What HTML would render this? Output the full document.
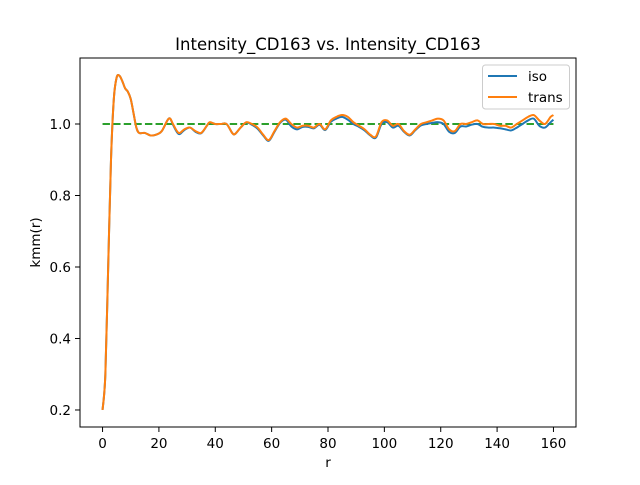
<!DOCTYPE html>
<html><head><meta charset="utf-8"><style>
body{margin:0;background:#fff;font-family:"Liberation Sans","DejaVu Sans",sans-serif;}
svg text{font-family:"DejaVu Sans","Liberation Sans",sans-serif;fill:#000;}
</style></head><body>
<svg id="chart" width="640" height="480" xmlns="http://www.w3.org/2000/svg"></svg>
<script>
const rVals=[0,1,2,3,4,5,6,7,8,9,10,11,12,13,15,17,19,21,23,24,25,27,29,31,33,35,37,38,40,42,44,46,47,49,51,53,55,57,59,61,63,65,67,69,71,73,75,77,79,81,83,85,87,89,91,93,95,97,99,101,103,105,107,109,111,113,115,117,119,121,123,125,127,129,131,133,135,137,139,141,143,145,147,149,151,153,155,157,159,160];
const transVals=[0.2,0.3,0.6,0.9,1.07,1.13,1.135,1.12,1.1,1.09,1.07,1.03,0.99,0.975,0.975,0.968,0.97,0.98,1.01,1.015,1.0,0.975,0.985,0.99,0.98,0.975,0.995,1.005,1.0,1.0,1.0,0.975,0.972,0.99,1.005,1.0,0.99,0.97,0.955,0.98,1.005,1.015,1.0,0.99,0.995,0.995,0.99,1.0,0.985,1.01,1.02,1.025,1.02,1.005,0.995,0.985,0.97,0.965,1.005,1.01,0.995,1.0,0.98,0.97,0.985,1.0,1.005,1.01,1.015,1.01,0.985,0.98,1.0,1.0,1.005,1.01,1.0,1.0,1.0,0.995,0.995,0.99,1.0,1.01,1.02,1.025,1.01,1.0,1.02,1.025];
const isoVals=[0.2,0.3,0.6,0.9,1.07,1.13,1.135,1.12,1.1,1.09,1.07,1.03,0.99,0.975,0.975,0.968,0.97,0.98,1.01,1.015,0.998,0.972,0.983,0.99,0.978,0.974,0.995,1.004,1.0,1.0,1.0,0.975,0.972,0.99,1.004,0.998,0.987,0.968,0.953,0.978,1.003,1.012,0.993,0.985,0.992,0.992,0.988,0.998,0.983,1.006,1.015,1.02,1.012,1.0,0.992,0.982,0.968,0.962,1.0,1.005,0.99,0.995,0.978,0.968,0.983,0.996,1.0,1.003,1.005,1.0,0.978,0.975,0.993,0.993,0.998,1.0,0.992,0.99,0.99,0.988,0.985,0.982,0.99,1.0,1.01,1.015,0.995,0.99,1.005,1.012];
const xTicks=[0,20,40,60,80,100,120,140,160];
const yTicks=[0.2,0.4,0.6,0.8,1.0];
const L=80,R=576,T=58,B=427,xMin=-8,xMax=168,yMin=0.1524,yMax=1.1846;
const X=v=>L+(v-xMin)/(xMax-xMin)*(R-L);
const Y=v=>B-(v-yMin)/(yMax-yMin)*(B-T);
const svg=document.getElementById('chart');
const NS='http://www.w3.org/2000/svg';
function mk(tag,attrs,parent){const e=document.createElementNS(NS,tag);for(const k in attrs)e.setAttribute(k,attrs[k]);(parent||svg).appendChild(e);return e;}
function path(xs,ys){
  const p=xs.map((x,i)=>[X(x),Y(ys[i])]);
  let d='M'+p[0][0].toFixed(2)+','+p[0][1].toFixed(2);
  for(let i=0;i<p.length-1;i++){
    const p0=p[Math.max(0,i-1)],p1=p[i],p2=p[i+1],p3=p[Math.min(p.length-1,i+2)];
    const c1x=p1[0]+(p2[0]-p0[0])/6,c1y=p1[1]+(p2[1]-p0[1])/6;
    const c2x=p2[0]-(p3[0]-p1[0])/6,c2y=p2[1]-(p3[1]-p1[1])/6;
    d+='C'+c1x.toFixed(2)+','+c1y.toFixed(2)+' '+c2x.toFixed(2)+','+c2y.toFixed(2)+' '+p2[0].toFixed(2)+','+p2[1].toFixed(2);
  }
  return d;
}
const ref=mk('line',{x1:X(0),x2:X(160),y1:Y(1),y2:Y(1),stroke:'#2ca02c','stroke-width':2,'stroke-dasharray':'7.4,3.2'});


const iso=mk('path',{d:path(rVals,isoVals),fill:'none',stroke:'#1f77b4','stroke-width':2,'stroke-linejoin':'round'});


const tr=mk('path',{d:path(rVals,transVals),fill:'none',stroke:'#ff7f0e','stroke-width':2,'stroke-linejoin':'round'});


const frame=mk('rect',{x:L,y:T,width:R-L,height:B-T,fill:'none',stroke:'#000','stroke-width':1});


xTicks.forEach(t=>{
  mk('line',{x1:X(t),x2:X(t),y1:B,y2:B+5,stroke:'#000','stroke-width':1});
  const tx=mk('text',{x:X(t),y:B+21,'font-size':13.5,'text-anchor':'middle'});tx.textContent=t;
  
  
});
yTicks.forEach(t=>{
  mk('line',{x1:L-5,x2:L,y1:Y(t),y2:Y(t),stroke:'#000','stroke-width':1});
  const tx=mk('text',{x:L-9,y:Y(t)+5,'font-size':13.5,'text-anchor':'end'});tx.textContent=t.toFixed(1);
  
  
});
const title=mk('text',{x:(L+R)/2,y:50,'font-size':16.5,'text-anchor':'middle'});title.textContent='Intensity_CD163 vs. Intensity_CD163';


const xl=mk('text',{x:(L+R)/2,y:467,'font-size':13.5,'text-anchor':'middle'});xl.textContent='r';


const yl=mk('text',{x:0,y:0,'font-size':13.5,'text-anchor':'middle',transform:'translate(40,'+((T+B)/2)+') rotate(-90)'});yl.textContent='kmm(r)';


const lg=mk('g',{});


mk('rect',{x:482.5,y:65,width:87,height:44,rx:3,fill:'#fff','fill-opacity':0.8,stroke:'#ccc','stroke-width':1},lg);
mk('line',{x1:488,x2:517,y1:76,y2:76,stroke:'#1f77b4','stroke-width':2},lg);
const l1=mk('text',{x:528,y:81,'font-size':13.5},lg);l1.textContent='iso';


mk('line',{x1:488,x2:517,y1:97,y2:97,stroke:'#ff7f0e','stroke-width':2},lg);
const l2=mk('text',{x:528,y:102,'font-size':13.5},lg);l2.textContent='trans';


</script>
</body></html>
